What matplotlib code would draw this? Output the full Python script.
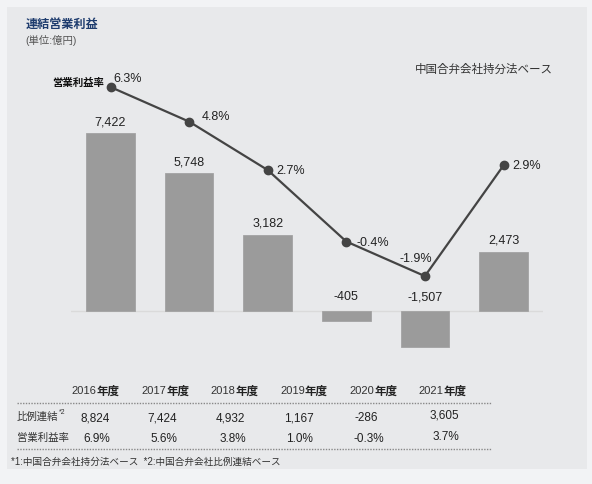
import matplotlib
matplotlib.use("Agg")
import matplotlib.pyplot as plt
from matplotlib.patches import Rectangle

# ---- data ----
years = ["2016", "2017", "2018", "2019", "2020", "2021"]
op_income = [7422, 5748, 3182, -405, -1507, 2473]          # 億円 (持分法)
op_margin = [6.3, 4.8, 2.7, -0.4, -1.9, 2.9]               # %
prop_income = [8824, 7424, 4932, 1167, -286, 3605]         # 比例連結
prop_margin = [6.9, 5.6, 3.8, 1.0, -0.3, 3.7]              # %

FONT = ["Liberation Sans", "Noto Sans CJK JP", "DejaVu Sans"]
plt.rcParams["font.family"] = FONT

W, H = 592, 485
fig = plt.figure(figsize=(W / 100, H / 100), dpi=100)
fig.patch.set_facecolor("#f2f3f5")

def fx(x):
    return x / W

def fy(y):
    return 1 - y / H

# panel background
fig.patches.append(Rectangle((fx(7), fy(470)), fx(587) - fx(7), fy(8) - fy(470),
                             transform=fig.transFigure, facecolor="#e8e9eb",
                             edgecolor="none", zorder=-5))

# ---- main axes (bars) ----
top_px, bot_px = 60, 360
left_px, right_px = 71.2, 542.8
ax = fig.add_axes([fx(left_px), fy(bot_px), (right_px - left_px) / W, (bot_px - top_px) / H])
ax.set_facecolor("none")
scale = 0.02397  # px per 億円
base_px = 312
ax.set_xlim(-0.5, 5.5)
ax.set_ylim(-(bot_px - base_px) / scale, (base_px - top_px) / scale)
for s in ax.spines.values():
    s.set_visible(False)
ax.set_xticks([])
ax.set_yticks([])

xs = list(range(len(years)))
ax.bar(xs, op_income, width=0.62, color="#9b9b9b", edgecolor="#a3a3a3", linewidth=0.6, zorder=2)
ax.axhline(0, color="#dadada", linewidth=1.0, zorder=1)

for x, v in zip(xs, op_income):
    label = f"{v:,}"
    if v >= 0:
        ax.annotate(label, (x, v), xytext=(0, 12), textcoords="offset pixels",
                    ha="center", va="center", fontsize=9, color="#222222")
    else:
        ax.annotate(label, (x, 0), xytext=(0, 15), textcoords="offset pixels",
                    ha="center", va="center", fontsize=9, color="#222222")

# ---- line axes (margin) ----
ax2 = ax.twinx()
ax2.set_facecolor("none")
zero_px = 233.3
pp = 23.06  # px per %
ax2.set_ylim(-(bot_px - zero_px) / pp, (zero_px - top_px) / pp)
ax2.set_xlim(-0.5, 5.5)
for s in ax2.spines.values():
    s.set_visible(False)
ax2.set_yticks([])
ax2.plot(xs, op_margin, color="#444444", linewidth=1.6, marker="o",
         markersize=6, markerfacecolor="#444444", markeredgecolor="#444444", zorder=3)

offsets = [(3, 9, "left"), (13, 6, "left"), (9, 0, "left"), (10, 0, "left"),
           (7, 18, "right"), (9, 0, "left")]
for x, v, (dx, dy, ha) in zip(xs, op_margin, offsets):
    ax2.annotate(f"{v:.1f}%", (x, v), xytext=(dx, dy), textcoords="offset pixels",
                 ha=ha, va="center", fontsize=9, color="#222222")
ax2.annotate("営業利益率", (0, op_margin[0]), xytext=(-6, 5), textcoords="offset pixels",
             ha="right", va="center", fontsize=7.5, fontweight="bold", color="#111111")

# ---- titles ----
fig.text(fx(25.5), fy(25), "連結営業利益", fontsize=8.7, fontweight="bold",
         color="#1e3c6e", ha="left", va="center")
fig.text(fx(25.5), fy(40), "(単位:億円)", fontsize=7.5, color="#555555",
         ha="left", va="center")
fig.text(fx(553), fy(69.5), "中国合弁会社持分法ベース", fontsize=8.3, color="#333333",
         ha="right", va="center")

# ---- table ----
col_b = [96.7 + 69.4 * i for i in range(6)]
for b, y in zip(col_b, years):
    fig.text(fx(b), fy(391.5), y, fontsize=8, color="#333333", ha="right", va="center")
    fig.text(fx(b), fy(391.5), "年度", fontsize=8.3, fontweight="bold", color="#222222",
             ha="left", va="center")

line_kw = dict(color="#888888", linewidth=1.0, linestyle=(0, (1, 1)))
for ypx in (404.3, 450):
    fig.add_artist(plt.Line2D([fx(16.7), fx(491)], [fy(ypx), fy(ypx)],
                              transform=fig.transFigure, **line_kw))

fig.text(fx(16.7), fy(416.7), "比例連結", fontsize=7.5, color="#333333", ha="left", va="center")
fig.text(fx(59), fy(413), "*2", fontsize=5, color="#333333", ha="left", va="center")
fig.text(fx(16.7), fy(438.3), "営業利益率", fontsize=7.5, color="#333333", ha="left", va="center")

val_cx = [95, 161.7, 230.8, 299, 366.7, 444.5]
val_y = [418.3, 418.3, 418.3, 418.3, 418.3, 416]
mar_cx = [97, 164, 232.8, 299.3, 369, 445.8]
mar_y = [439.3, 439.3, 439.3, 439.3, 439.3, 437.3]
for cx, cy, v in zip(val_cx, val_y, prop_income):
    fig.text(fx(cx), fy(cy), f"{v:,}", fontsize=8.5, color="#222222", ha="center", va="center")
for cx, cy, v in zip(mar_cx, mar_y, prop_margin):
    fig.text(fx(cx), fy(cy), f"{v:.1f}%", fontsize=8.5, color="#222222", ha="center", va="center")

fig.text(fx(11), fy(461.7), "*1:中国合弁会社持分法ベース  *2:中国合弁会社比例連結ベース",
         fontsize=6.9, color="#333333", ha="left", va="center")

fig.savefig("out.png", dpi=100, facecolor=fig.get_facecolor())
